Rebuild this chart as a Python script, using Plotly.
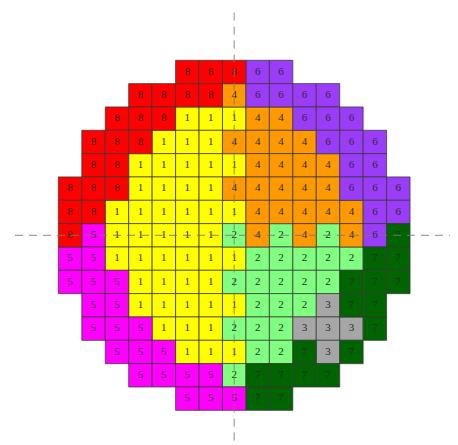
import plotly.graph_objects as go

# Bin code per die, row by row from top (0 = no die)
row00 = [0, 0, 0, 0, 0, 8, 8, 8, 6, 6, 0, 0, 0, 0, 0]
row01 = [0, 0, 0, 8, 8, 8, 8, 4, 6, 6, 6, 6, 0, 0, 0]
row02 = [0, 0, 8, 8, 8, 1, 1, 1, 4, 4, 6, 6, 6, 0, 0]
row03 = [0, 8, 8, 8, 1, 1, 1, 4, 4, 4, 4, 6, 6, 6, 0]
row04 = [0, 8, 8, 1, 1, 1, 1, 1, 4, 4, 4, 4, 6, 6, 0]
row05 = [8, 8, 8, 1, 1, 1, 1, 4, 4, 4, 4, 4, 6, 6, 6]
row06 = [8, 8, 1, 1, 1, 1, 1, 1, 4, 4, 4, 4, 4, 6, 6]
row07 = [8, 5, 1, 1, 1, 1, 1, 2, 4, 2, 4, 2, 4, 6, 7]
row08 = [5, 5, 1, 1, 1, 1, 1, 1, 2, 2, 2, 2, 2, 7, 7]
row09 = [5, 5, 5, 1, 1, 1, 1, 2, 2, 2, 2, 2, 7, 7, 7]
row10 = [0, 5, 5, 1, 1, 1, 1, 1, 2, 2, 2, 3, 7, 7, 0]
row11 = [0, 5, 5, 5, 1, 1, 1, 2, 2, 2, 3, 3, 3, 7, 0]
row12 = [0, 0, 5, 5, 5, 1, 1, 1, 2, 2, 7, 3, 7, 0, 0]
row13 = [0, 0, 0, 5, 5, 5, 5, 2, 7, 7, 7, 7, 0, 0, 0]
row14 = [0, 0, 0, 0, 0, 5, 5, 5, 7, 7, 0, 0, 0, 0, 0]
rows = [row00, row01, row02, row03, row04, row05, row06, row07,
        row08, row09, row10, row11, row12, row13, row14]

bins = [1, 2, 3, 4, 5, 6, 7, 8]
bin_colors = {
    1: "#FFFF00",
    2: "#80FF80",
    3: "#A6A6A6",
    4: "#FF9900",
    5: "#FF00FF",
    6: "#9A3CF8",
    7: "#006400",
    8: "#FF0000",
}

n = len(rows)
half = n // 2

fig = go.Figure()
for b in bins:
    xs, ys, ts = [], [], []
    for r, row in enumerate(rows):
        for c, v in enumerate(row):
            if v == b:
                xs.append(c - half)
                ys.append(half - r)
                ts.append(str(v))
    fig.add_trace(go.Scatter(
        x=xs, y=ys, mode="markers+text", text=ts,
        textposition="middle center",
        textfont=dict(family="Liberation Serif", size=11, color="#2a2a2a"),
        marker=dict(symbol="square", size=23.4, color=bin_colors[b],
                    line=dict(color="rgba(55,55,55,0.75)", width=1)),
        showlegend=False, hoverinfo="skip",
    ))

# center crosshair
fig.add_trace(go.Scatter(x=[-9.35, 9.3], y=[0, 0], mode="lines",
                         line=dict(color="rgba(120,120,120,0.7)", width=1.2, dash="8px,6px"),
                         showlegend=False, hoverinfo="skip"))
fig.add_trace(go.Scatter(x=[0, 0], y=[-8.8, 9.6], mode="lines",
                         line=dict(color="rgba(120,120,120,0.7)", width=1.2, dash="8px,6px"),
                         showlegend=False, hoverinfo="skip"))

fig.update_layout(
    width=450, height=437,
    margin=dict(l=0, r=0, t=0, b=0),
    paper_bgcolor="white", plot_bgcolor="white",
    xaxis=dict(range=[-9.646, 9.544], visible=False, fixedrange=True),
    yaxis=dict(range=[-8.988, 9.743], visible=False, fixedrange=True),
)
fig.write_html("out.html")
